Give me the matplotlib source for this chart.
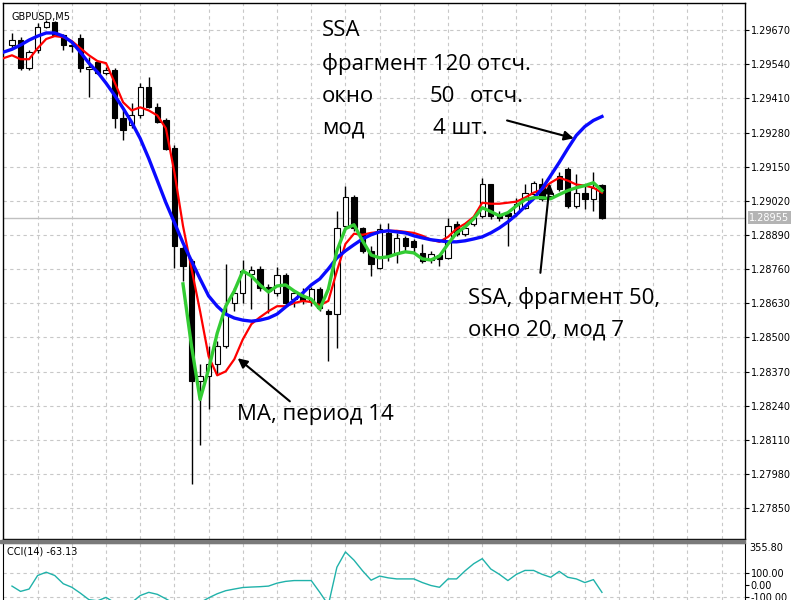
import matplotlib.pyplot as plt
import matplotlib.patches as mpatches
import matplotlib.transforms as mtransforms
import numpy as np

# GBPUSD M5 candles
opens = [1.29613, 1.29632, 1.29525, 1.29594, 1.29681, 1.29701, 1.29651, 1.29609, 1.29639, 1.29521,
         1.29548, 1.29506, 1.29517, 1.29334, 1.29307, 1.29345, 1.29452, 1.29376, 1.29326, 1.29223,
         1.28841, 1.28791, 1.28333, 1.28352, 1.28398, 1.28467, 1.28631, 1.28669, 1.28742, 1.28761,
         1.28692, 1.28669, 1.28738, 1.28646, 1.28658, 1.28639, 1.28684, 1.28600, 1.28589, 1.28925,
         1.29036, 1.28917, 1.28830, 1.28765, 1.28898, 1.28818, 1.28879, 1.28868, 1.28822, 1.28795,
         1.28814, 1.28803, 1.28933, 1.28895, 1.28933, 1.28963, 1.29086, 1.28971, 1.28975, 1.28975,
         1.28994, 1.29047, 1.29086, 1.29040, 1.29116, 1.29143, 1.29001, 1.29051, 1.29028, 1.29082]
highs = [1.29659, 1.29643, 1.29594, 1.29697, 1.29708, 1.29704, 1.29655, 1.29624, 1.29655, 1.29567,
         1.29555, 1.29529, 1.29525, 1.29364, 1.29391, 1.29468, 1.29490, 1.29391, 1.29334, 1.29231,
         1.28849, 1.28799, 1.28398, 1.28467, 1.28486, 1.28780, 1.28688, 1.28795, 1.28772, 1.28772,
         1.28704, 1.28768, 1.28746, 1.28677, 1.28688, 1.28692, 1.28692, 1.28608, 1.28982, 1.29078,
         1.29044, 1.28921, 1.28849, 1.28933, 1.28937, 1.28898, 1.28887, 1.28875, 1.28856, 1.28830,
         1.28818, 1.28956, 1.28944, 1.28933, 1.28963, 1.29108, 1.29086, 1.28982, 1.28982, 1.29032,
         1.29086, 1.29097, 1.29108, 1.29059, 1.29128, 1.29147, 1.29124, 1.29086, 1.29128, 1.29086]
lows = [1.29601, 1.29517, 1.29517, 1.29582, 1.29678, 1.29647, 1.29594, 1.29586, 1.29510, 1.29414,
        1.29502, 1.29498, 1.29296, 1.29250, 1.29299, 1.29334, 1.29372, 1.29315, 1.29212, 1.28765,
        1.28715, 1.27943, 1.28092, 1.28226, 1.28360, 1.28459, 1.28600, 1.28631, 1.28608, 1.28677,
        1.28593, 1.28658, 1.28623, 1.28616, 1.28627, 1.28620, 1.28600, 1.28409, 1.28459, 1.28914,
        1.28906, 1.28822, 1.28734, 1.28761, 1.28791, 1.28784, 1.28830, 1.28822, 1.28784, 1.28784,
        1.28772, 1.28799, 1.28887, 1.28887, 1.28925, 1.28956, 1.28952, 1.28944, 1.28849, 1.28963,
        1.28990, 1.29040, 1.29021, 1.29032, 1.29059, 1.28994, 1.28994, 1.28990, 1.28982, 1.28952]
closes = [1.29632, 1.29525, 1.29586, 1.29681, 1.29701, 1.29651, 1.29613, 1.29613, 1.29525, 1.29529,
          1.29506, 1.29517, 1.29334, 1.29288, 1.29345, 1.29452, 1.29376, 1.29319, 1.29219, 1.28849,
          1.28772, 1.28333, 1.28352, 1.28398, 1.28467, 1.28589, 1.28669, 1.28753, 1.28757, 1.28688,
          1.28677, 1.28738, 1.28631, 1.28669, 1.28639, 1.28684, 1.28612, 1.28589, 1.28917, 1.29036,
          1.28917, 1.28830, 1.28780, 1.28914, 1.28810, 1.28879, 1.28849, 1.28845, 1.28791, 1.28818,
          1.28799, 1.28925, 1.28895, 1.28917, 1.28956, 1.29086, 1.28963, 1.28956, 1.28963, 1.29009,
          1.29051, 1.29089, 1.29028, 1.29051, 1.29066, 1.29001, 1.29051, 1.29028, 1.29070, 1.28956]

# smoothing lines, one value per bar starting at bar -1 (blue, red) and bar 20 (green)
ssa120 = [1.29586, 1.29597, 1.29613, 1.29632, 1.29647, 1.29659, 1.29659, 1.29647, 1.29624, 1.29586,
          1.29544, 1.29510, 1.29468, 1.29422, 1.29372, 1.29319, 1.29257, 1.29181, 1.29097, 1.29013,
          1.28937, 1.28860, 1.28791, 1.28723, 1.28658, 1.28619, 1.28589, 1.28574, 1.28566, 1.28562,
          1.28566, 1.28574, 1.28589, 1.28616, 1.28642, 1.28669, 1.28700, 1.28723, 1.28761, 1.28803,
          1.28830, 1.28853, 1.28875, 1.28891, 1.28902, 1.28906, 1.28902, 1.28898, 1.28887, 1.28879,
          1.28872, 1.28868, 1.28864, 1.28864, 1.28868, 1.28875, 1.28883, 1.28898, 1.28917, 1.28940,
          1.28967, 1.28998, 1.29028, 1.29066, 1.29116, 1.29166, 1.29219, 1.29269, 1.29303, 1.29326,
          1.29341]
ma14 = [1.29563, 1.29574, 1.29559, 1.29559, 1.29601, 1.29636, 1.29647, 1.29643, 1.29628, 1.29601,
        1.29574, 1.29552, 1.29544, 1.29471, 1.29395, 1.29364, 1.29376, 1.29364, 1.29345, 1.29296,
        1.29128, 1.28925, 1.28761, 1.28600, 1.28428, 1.28356, 1.28371, 1.28417, 1.28493, 1.28551,
        1.28577, 1.28600, 1.28619, 1.28619, 1.28631, 1.28639, 1.28635, 1.28623, 1.28639, 1.28753,
        1.28856, 1.28895, 1.28891, 1.28898, 1.28902, 1.28906, 1.28906, 1.28902, 1.28898, 1.28887,
        1.28872, 1.28864, 1.28883, 1.28914, 1.28933, 1.28959, 1.29013, 1.29009, 1.29009, 1.29013,
        1.29017, 1.29032, 1.29051, 1.29063, 1.29089, 1.29108, 1.29097, 1.29082, 1.29078, 1.29070,
        1.29051]
ssa50 = [1.28704, 1.28467, 1.28264, 1.28379, 1.28516, 1.28619, 1.28677, 1.28753, 1.28734, 1.28700,
         1.28673, 1.28696, 1.28700, 1.28677, 1.28658, 1.28646, 1.28608, 1.28684, 1.28830, 1.28914,
         1.28929, 1.28868, 1.28814, 1.28803, 1.28807, 1.28818, 1.28826, 1.28822, 1.28799, 1.28795,
         1.28810, 1.28856, 1.28898, 1.28921, 1.28952, 1.28994, 1.28979, 1.28963, 1.28975, 1.29001,
         1.29024, 1.29032, 1.29032, 1.29028, 1.29044, 1.29059, 1.29070, 1.29078, 1.29089, 1.29059]

cci = [-10, -55, -35, 80, 108, 80, 10, -20, -70, -125,
       -135, -106, -150, -170, -150, -90, -63, -80, -118, -160,
       -180, -180, -150, -110, -75, -49, -35, -22, -18, -15,
       -10, 15, 30, 37, 37, 37, -63, -170, 150, 280,
       210, 120, 40, 75, 60, 51, 51, 51, 20, -5,
       -20, 51, 51, 120, 180, 223, 135, 90, 37, 90,
       123, 123, 90, 65, 115, 65, 51, 20, 45, -63.13]

price_ticks = [1.27850, 1.27980, 1.28110, 1.28240, 1.28370, 1.28500, 1.28630, 1.28760,
               1.28890, 1.29020, 1.29150, 1.29280, 1.29410, 1.29540, 1.29670]
last_price = 1.28955

W, H = 800, 600
fig = plt.figure(figsize=(8, 6), dpi=100)
fig.patch.set_facecolor('white')

ax = fig.add_axes([3 / W, 1 - 539 / H, 742 / W, 536 / H])
cax = fig.add_axes([3 / W, 0, 742 / W, 57 / H])

n = len(closes)
x = np.arange(n)
xmin, xmax = -1.05, 85.73

# grid
grid_kw = dict(color='#c8c8c8', lw=0.8, ls=(0, (3, 3)), zorder=0)
for gx in range(3, 86, 4):
    ax.axvline(gx, **grid_kw)
    cax.axvline(gx, **grid_kw)
for gy in price_ticks:
    ax.axhline(gy, **grid_kw)
ax.axhline(last_price, color='#c0c0c0', lw=1, zorder=1)

# candles
o = np.array(opens); c = np.array(closes)
ax.vlines(x, lows, highs, color='black', lw=1, zorder=2)
body = np.maximum(np.abs(c - o), 0.000015)
cols = ['white' if cc >= oo else 'black' for oo, cc in zip(o, c)]
ax.bar(x, body, bottom=np.minimum(o, c), width=0.62, color=cols, edgecolor='black', lw=0.8, zorder=3)

# lines
ax.plot(np.arange(-1, n), ma14, color='#ff0000', lw=1.6, zorder=4)
ax.plot(np.arange(-1, n), ssa120, color='#0a0aff', lw=2.4, zorder=5)
ax.plot(np.arange(20, n), ssa50, color='#33cc33', lw=2.4, zorder=6)

ax.set_xlim(xmin, xmax)
ax.set_ylim(1.27733, 1.29773)
ax.set_xticks([])
ax.yaxis.tick_right()
ax.set_yticks(price_ticks)
ax.set_yticklabels(['%.5f' % t for t in price_ticks])
ax.tick_params(axis='y', length=3, width=0.8, pad=1, labelsize=7, direction='out')
for s in ax.spines.values():
    s.set_linewidth(1)
    s.set_color('black')

# last price label
trans = mtransforms.blended_transform_factory(ax.transAxes, ax.transData)
ax.text(1.006, last_price, '1.28955', transform=trans, fontsize=7, color='white', va='center',
        ha='left', bbox=dict(boxstyle='square,pad=0.15', fc='#b4b4b4', ec='none'), zorder=10)

ax.text(8 / 742, 1 - 9 / 536, 'GBPUSD,M5', transform=ax.transAxes, fontsize=7, va='top', ha='left')

# CCI panel
cax.plot(x, cci, color='#20b2aa', lw=1)
cax.axhline(100, **grid_kw)
cax.axhline(-100, **grid_kw)
cax.set_xlim(xmin, xmax)
cax.set_ylim(-128, 355.8)
cax.set_xticks([])
cax.yaxis.tick_right()
cax.set_yticks([100, 0, -100])
cax.set_yticklabels(['100.00', '0.00', '-100.00'])
cax.tick_params(axis='y', length=3, width=0.8, pad=1, labelsize=7, direction='out')
cax.text(1.006, 1.0, '355.80', transform=cax.transAxes, fontsize=7, va='top', ha='left')
cax.text(4 / 742, 0.93, 'CCI(14) -63.13', transform=cax.transAxes, fontsize=7, va='top', ha='left')
cax.spines['bottom'].set_visible(False)

# panel separator
fig.patches.append(mpatches.Rectangle((0, 1 - 543 / H), 745 / W, 3.5 / H, transform=fig.transFigure,
                                      color='#7a7a7a', zorder=5))

# annotations
big = dict(fontsize=16, family='Open Sans', color='black', va='top', ha='left')
def ftext(px, py, s):
    fig.text(px / W, 1 - py / H, s, **big)

ftext(322, 20, 'SSA')
ftext(322, 53, 'фрагмент 120 отсч.')
ftext(322, 86, 'окно')
ftext(430, 86, '50')
ftext(470, 86, 'отсч.')
ftext(322, 118, 'мод')
ftext(433, 118, '4 шт.')
ftext(468, 287, 'SSA, фрагмент 50,')
ftext(468, 320, 'окно 20, мод 7')
ftext(237, 404, 'MA, период 14')

arr = dict(arrowstyle='-|>', color='black', lw=1.5, mutation_scale=14, shrinkA=0, shrinkB=0)
ax.annotate('', xy=(65.7, 1.29258), xytext=(57.9, 1.29326), arrowprops=arr, zorder=12)
ax.annotate('', xy=(62.9, 1.29086), xytext=(61.8, 1.28746), arrowprops=arr, zorder=12)
ax.annotate('', xy=(26.4, 1.28421), xytext=(32.5, 1.28257), arrowprops=arr, zorder=12)

fig.savefig('out.png', dpi=100)
